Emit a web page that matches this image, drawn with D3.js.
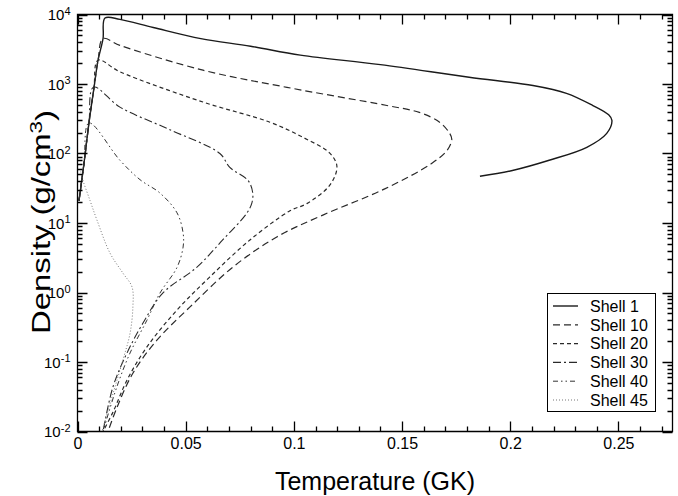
<!DOCTYPE html>
<html>
<head>
<meta charset="utf-8">
<script src="https://cdn.jsdelivr.net/npm/d3@7"></script>
<style>
    body { margin: 0; background: #fff; }
    svg { font-family: "Liberation Sans", Arial, Helvetica, sans-serif; }
    .axis path { display: none; }
    .axis text { font-size: 16px; fill: #000; }
    .axisLabel { font-size: 25px; fill: #000; }
    .legendText { font-size: 16px; fill: #000; }
</style>
</head>
<body>
<svg id="chart" width="678" height="496"></svg>
<script>
//////////////////// DATA ////////////////////
// temperature (GK) and density (g/cm3)
const shell1T   = [0.0007, 0.0030, 0.0053, 0.0076, 0.0095, 0.0118, 0.0127, 0.0196, 0.035, 0.057, 0.080, 0.103, 0.140, 0.181, 0.2105, 0.226, 0.238, 0.2455, 0.247, 0.2446, 0.2354, 0.218, 0.201, 0.186];
const shell1Rho = [21, 72, 275, 870, 2200, 4500, 8900, 8500, 6500, 4500, 3500, 2600, 1900, 1250, 950, 735, 494, 360, 300, 195, 123, 80, 57, 47];

const shell10T   = [0.0007, 0.0030, 0.0053, 0.0076, 0.0095, 0.0118, 0.0196, 0.058, 0.0968, 0.143, 0.158, 0.1675, 0.172, 0.173, 0.171, 0.164, 0.142, 0.1134, 0.0921, 0.0719, 0.052, 0.0367, 0.0256, 0.0182, 0.0141];
const shell10Rho = [21, 72, 275, 870, 2200, 4500, 3600, 1580, 895, 490, 390, 280, 195, 160, 113, 73, 31, 13, 6.3, 2.33, 0.62, 0.206, 0.069, 0.022, 0.01];

const shell20T   = [0.0007, 0.0030, 0.0053, 0.0076, 0.0095, 0.0196, 0.058, 0.0889, 0.104, 0.1166, 0.1199, 0.1166, 0.106, 0.0982, 0.0797, 0.0612, 0.046, 0.0321, 0.0229, 0.0164, 0.0118];
const shell20Rho = [21, 72, 275, 870, 2200, 1500, 550, 282, 172, 101, 65, 35, 19, 15, 5.7, 1.68, 0.56, 0.165, 0.055, 0.019, 0.01];

const shell30T   = [0.0007, 0.0030, 0.0053, 0.0074, 0.0196, 0.0427, 0.0658, 0.0704, 0.0788, 0.081, 0.0805, 0.0782, 0.0671, 0.0551, 0.0394, 0.0302, 0.0229, 0.0164, 0.0118];
const shell30Rho = [21, 72, 275, 900, 465, 220, 100, 63, 41, 27, 19, 13.8, 5.7, 2.3, 0.98, 0.36, 0.135, 0.044, 0.01];

const shell40T   = [0.0007, 0.0030, 0.0053, 0.0196, 0.0289, 0.0381, 0.046, 0.0488, 0.0488, 0.046, 0.0381, 0.0321, 0.0243, 0.0182, 0.0118];
const shell40Rho = [21, 72, 275, 80, 42, 27, 14, 7.2, 4.5, 2.3, 0.98, 0.40, 0.135, 0.044, 0.01];

const shell45T   = [0.0015, 0.0021, 0.0058, 0.009, 0.015, 0.021, 0.0252, 0.0256, 0.0243, 0.021, 0.0164, 0.0113];
const shell45Rho = [55, 45, 21, 11, 3.7, 1.9, 1.2, 0.62, 0.26, 0.107, 0.035, 0.01];

const shellNames = ["Shell 1", "Shell 10", "Shell 20", "Shell 30", "Shell 40", "Shell 45"];

// axis ticks
const xMajorTicks = [0, 0.05, 0.1, 0.15, 0.2, 0.25];
const xTickLabels = ["0", "0.05", "0.1", "0.15", "0.2", "0.25"];
const yExponents = [-2, -1, 0, 1, 2, 3, 4];


//////////////////// HANDLE SIZES ////////////////////
const sizes = {
    left: 77.5,
    right: 672.5,
    top: 14.5,
    bottom: 431.5
}

const svg = d3.select("#chart");


//////////////////// SCALERS ////////////////////
const scaleTemp = d3.scaleLinear()
    .domain([0, 0.275])
    .range([sizes.left, sizes.right]);

const scaleRho = d3.scaleLog()
    .domain([0.01, 10000])
    .range([sizes.bottom, sizes.top]);


//////////////////// TICK VALUES ////////////////////
const xMinorTicks = d3.range(0, 0.2751, 0.01).filter(v => xMajorTicks.every(m => Math.abs(m - v) > 1e-6));
const yMajorTicks = yExponents.map(e => Math.pow(10, e));
const yMinorTicks = [];
yExponents.slice(0, -1).forEach(e => {
    for (let k = 2; k < 10; k++) yMinorTicks.push(k * Math.pow(10, e));
});


//////////////////// LINES ////////////////////
const shells = [
    { name: shellNames[0], t: shell1T,  rho: shell1Rho,  dash: null,              color: "#1a1a1a", width: 1.4 },
    { name: shellNames[1], t: shell10T, rho: shell10Rho, dash: "7,4",             color: "#2a2a2a", width: 1.2 },
    { name: shellNames[2], t: shell20T, rho: shell20Rho, dash: "4,3",             color: "#2a2a2a", width: 1.2 },
    { name: shellNames[3], t: shell30T, rho: shell30Rho, dash: "8,3,2,3",         color: "#2a2a2a", width: 1.1 },
    { name: shellNames[4], t: shell40T, rho: shell40Rho, dash: "5,3,1.5,3,1.5,3", color: "#333",    width: 1.0 },
    { name: shellNames[5], t: shell45T, rho: shell45Rho, dash: "1,2",             color: "#777",    width: 1.0 }
];

const lineGenerator = d3.line()
    .x(d => scaleTemp(d[0]))
    .y(d => scaleRho(d[1]))
    .curve(d3.curveCatmullRom.alpha(0.5));

svg.append("defs").append("clipPath").attr("id", "plotClip")
    .append("rect")
    .attr("x", sizes.left).attr("y", sizes.top)
    .attr("width", sizes.right - sizes.left).attr("height", sizes.bottom - sizes.top);

svg.append("g").attr("clip-path", "url(#plotClip)")
    .selectAll("path")
    .data(shells)
    .enter()
    .append("path")
    .attr("d", s => lineGenerator(s.t.map((v, i) => [v, s.rho[i]])))
    .attr("fill", "none")
    .attr("stroke", s => s.color)
    .attr("stroke-width", s => s.width)
    .attr("stroke-dasharray", s => s.dash);


//////////////////// FRAME + INWARD TICKS (one path) ////////////////////
function frameAndTicks() {
    const p = d3.path();
    p.rect(sizes.left, sizes.top, sizes.right - sizes.left, sizes.bottom - sizes.top);
    const addX = (vals, len) => vals.forEach(v => {
        const x = Math.round(scaleTemp(v)) + 0.5;
        p.moveTo(x, sizes.bottom); p.lineTo(x, sizes.bottom - len);
        p.moveTo(x, sizes.top);    p.lineTo(x, sizes.top + len);
    });
    const addY = (vals, len) => vals.forEach(v => {
        const y = Math.round(scaleRho(v)) + 0.5;
        p.moveTo(sizes.left, y);  p.lineTo(sizes.left + len, y);
        p.moveTo(sizes.right, y); p.lineTo(sizes.right - len, y);
    });
    addX(xMajorTicks, 10);
    addX(xMinorTicks, 5);
    addY(yMajorTicks, 10);
    addY(yMinorTicks, 5);
    return p.toString();
}

svg.append("path")
    .attr("d", frameAndTicks())
    .attr("fill", "none")
    .attr("stroke", "#000")
    .attr("stroke-width", 1.3);


//////////////////// TICK LABELS ////////////////////
svg.append("g").attr("class", "axis")
    .attr("transform", `translate(0, ${sizes.bottom})`)
    .call(d3.axisBottom(scaleTemp).tickValues(xMajorTicks).tickSize(0).tickPadding(6)
        .tickFormat((d, i) => xTickLabels[i]));

const yAxisGroup = svg.append("g").attr("class", "axis")
    .attr("transform", `translate(${sizes.left}, 0)`)
    .call(d3.axisLeft(scaleRho).tickValues(yMajorTicks).tickSize(0).tickPadding(7).tickFormat(""));

// y tick labels as 10 with superscript exponent
yAxisGroup.selectAll(".tick text")
    .attr("dy", "0.36em")
    .style("font-size", "15px")
    .each(function(d) {
        const t = d3.select(this);
        t.append("tspan").text("10");
        t.append("tspan").attr("dy", "-0.5em").style("font-size", "11px").text(Math.round(Math.log10(d)));
    });


//////////////////// AXIS LABELS ////////////////////
svg.append("text")
    .attr("class", "axisLabel")
    .attr("x", (sizes.left + sizes.right) / 2)
    .attr("y", 490)
    .attr("text-anchor", "middle")
    .text("Temperature (GK)");

const yLab = svg.append("text")
    .attr("class", "axisLabel")
    .attr("transform", `translate(50, 222) rotate(-90)`)
    .attr("text-anchor", "middle")
    .style("font-size", "25px")
    .attr("textLength", 224)
    .attr("lengthAdjust", "spacingAndGlyphs");
yLab.append("tspan").text("Density (g/cm");
yLab.append("tspan").attr("dy", "-0.5em").style("font-size", "17px").text("3");
yLab.append("tspan").attr("dy", "0.5em").text(")");


//////////////////// LEGEND ////////////////////
const legend = svg.append("g");
legend.append("rect")
    .attr("x", 547.5).attr("y", 293.5)
    .attr("width", 108).attr("height", 118)
    .attr("fill", "#fff").attr("stroke", "#000").attr("stroke-width", 1);

shells.forEach((s, i) => {
    const yRow = 306 + i * 18.8;
    legend.append("line")
        .attr("x1", 553).attr("x2", 578)
        .attr("y1", yRow).attr("y2", yRow)
        .attr("stroke", s.color)
        .attr("stroke-width", s.width)
        .attr("stroke-dasharray", s.dash);
    legend.append("text")
        .attr("class", "legendText")
        .attr("x", 590)
        .attr("y", yRow)
        .attr("dy", "0.36em")
        .text(s.name);
});
</script>
</body>
</html>
